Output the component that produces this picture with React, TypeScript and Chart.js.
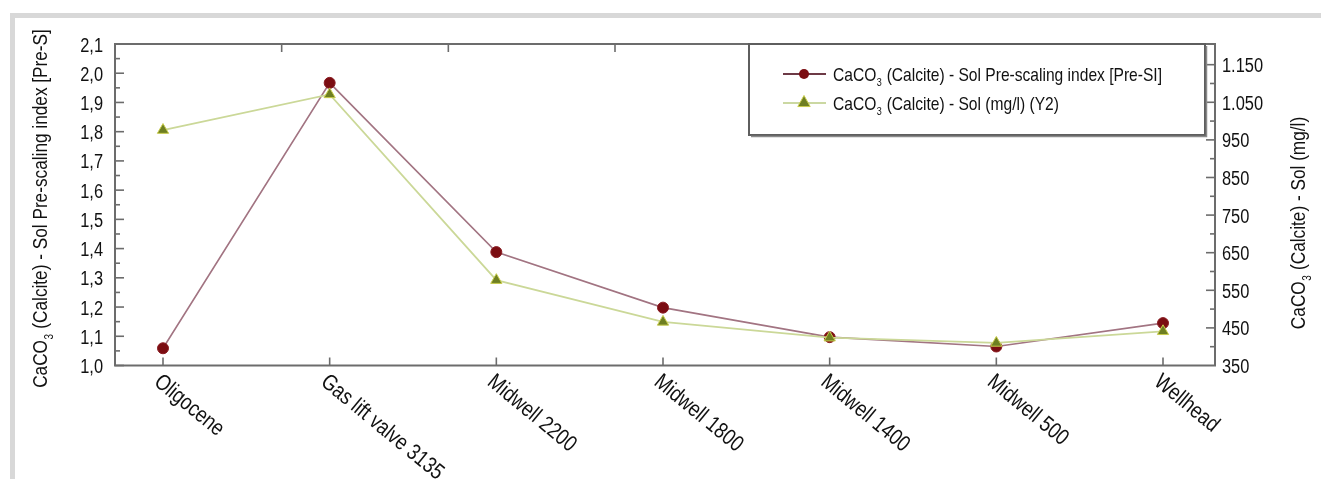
import React, { useEffect, useRef } from 'react';
import { Chart, registerables } from 'chart.js';

Chart.register(...registerables);

// ---------- data ----------
const categories = [
  'Oligocene',
  'Gas lift valve 3135',
  'Midwell 2200',
  'Midwell 1800',
  'Midwell 1400',
  'Midwell 500',
  'Wellhead',
];
const preScalingIndex = [1.059, 1.967, 1.388, 1.198, 1.097, 1.065, 1.145];
const solubilityMgL = [976, 1071, 577, 466, 424, 410, 441];
const leftTicks = [1.0, 1.1, 1.2, 1.3, 1.4, 1.5, 1.6, 1.7, 1.8, 1.9, 2.0, 2.1];
const rightTicks = [350, 450, 550, 650, 750, 850, 950, 1050, 1150];
const seriesLabels = [
  'CaCO₃ (Calcite) - Sol Pre-scaling index [Pre-SI]',
  'CaCO₃ (Calcite) - Sol (mg/l) (Y2)',
];
const leftTitle = 'CaCO₃ (Calcite) - Sol Pre-scaling index [Pre-S]';
const rightTitle = 'CaCO₃ (Calcite) - Sol (mg/l)';

// ---------- styles ----------
const FONT = '"Liberation Sans", Arial, sans-serif';
const SQUEEZE = 0.82;
const W = 1321;
const H = 479;
const AXIS_COLOR = '#6c6c6c';
const TEXT_COLOR = '#111';
const RED_LINE = '#a27482';
const RED_POINT = '#7b0d12';
const GREEN_LINE = '#cbd898';
const GREEN_POINT = '#6e7f22';
const GREEN_EDGE = '#c8cc4c';

type Align = 'left' | 'center' | 'right';

function condWidth(ctx: CanvasRenderingContext2D, text: string, size: number) {
  ctx.font = `${size}px ${FONT}`;
  return ctx.measureText(text).width * SQUEEZE;
}

function fillCond(ctx: CanvasRenderingContext2D, text: string, x: number, y: number, size: number, align: Align, baseline: CanvasTextBaseline = 'alphabetic') {
  ctx.save();
  ctx.translate(x, y);
  ctx.scale(SQUEEZE, 1);
  ctx.font = `${size}px ${FONT}`;
  ctx.textAlign = align;
  ctx.textBaseline = baseline;
  ctx.fillText(text, 0, 0);
  ctx.restore();
}

function drawChem(ctx: CanvasRenderingContext2D, text: string, x: number, y: number, size: number, align: 'left' | 'center') {
  const parts = text.split('₃');
  const subSize = size * 0.58;
  const w0 = condWidth(ctx, parts[0], size);
  const w1 = parts.length > 1 ? condWidth(ctx, '3', subSize) : 0;
  const w2 = parts.length > 1 ? condWidth(ctx, parts[1], size) : 0;
  const total = w0 + w1 + w2;
  let sx = align === 'center' ? x - total / 2 : x;
  fillCond(ctx, parts[0], sx, y, size, 'left');
  if (parts.length > 1) {
    sx += w0;
    fillCond(ctx, '3', sx + 0.5, y + size * 0.3, subSize, 'left');
    sx += w1 + 1;
    fillCond(ctx, parts[1], sx, y, size, 'left');
  }
}

function drawTriangle(ctx: CanvasRenderingContext2D, x: number, y: number, r: number) {
  ctx.beginPath();
  ctx.moveTo(x, y - r);
  ctx.lineTo(x + r * 0.95, y + r * 0.7);
  ctx.lineTo(x - r * 0.95, y + r * 0.7);
  ctx.closePath();
  ctx.fillStyle = GREEN_POINT;
  ctx.fill();
  ctx.strokeStyle = GREEN_EDGE;
  ctx.lineWidth = 1;
  ctx.stroke();
}

const formatLeft = (v: number) => v.toFixed(1).replace('.', ',');
const formatRight = (n: number) => {
  if (n >= 1000) {
    const th = Math.floor(n / 1000);
    const rest = String(n % 1000).padStart(3, '0');
    return `${th}.${rest}`;
  }
  return String(n);
};

const decorPlugin = {
  id: 'decor',
  beforeDatasetsDraw(chart: any) {
    const { ctx, chartArea: a, scales } = chart;
    ctx.save();
    ctx.strokeStyle = AXIS_COLOR;
    ctx.lineWidth = 2;
    ctx.strokeRect(a.left, a.top, a.right - a.left, a.bottom - a.top);
    ctx.lineWidth = 1.6;
    const y = scales.y;
    leftTicks.forEach((v, i) => {
      const py = y.getPixelForValue(v);
      ctx.beginPath();
      ctx.moveTo(a.left, py);
      ctx.lineTo(a.left + 9, py);
      ctx.stroke();
      if (i < leftTicks.length - 1) {
        const pm = y.getPixelForValue((v + leftTicks[i + 1]) / 2);
        ctx.beginPath();
        ctx.moveTo(a.left, pm);
        ctx.lineTo(a.left + 5, pm);
        ctx.stroke();
      }
    });
    const y2 = scales.y2;
    rightTicks.forEach((v, i) => {
      const py = y2.getPixelForValue(v);
      if (i > 0) {
        ctx.beginPath();
        ctx.moveTo(a.right, py);
        ctx.lineTo(a.right - 9, py);
        ctx.stroke();
      }
      const pm = y2.getPixelForValue(v + 50);
      if (pm > a.top + 2) {
        ctx.beginPath();
        ctx.moveTo(a.right, pm);
        ctx.lineTo(a.right - 5, pm);
        ctx.stroke();
      }
    });
    const x = scales.x;
    categories.forEach((_, i) => {
      const px = x.getPixelForValue(i);
      ctx.beginPath();
      ctx.moveTo(px, a.bottom);
      ctx.lineTo(px, a.bottom - 8);
      ctx.stroke();
    });
    for (let k = 1; k < categories.length; k++) {
      const px = x.getPixelForValue(x.min + k);
      ctx.beginPath();
      ctx.moveTo(px, a.top);
      ctx.lineTo(px, a.top + 8);
      ctx.stroke();
    }
    ctx.restore();
  },
  afterDraw(chart: any) {
    const { ctx, chartArea: a, scales } = chart;
    ctx.save();
    ctx.fillStyle = TEXT_COLOR;

    // y tick labels
    leftTicks.forEach((v) => {
      const py = scales.y.getPixelForValue(v);
      fillCond(ctx, formatLeft(v), a.left - 12, py + 7.5, 20, 'right');
    });
    rightTicks.forEach((v) => {
      const py = scales.y2.getPixelForValue(v);
      fillCond(ctx, formatRight(v), a.right + 7, py + 7.5, 20, 'left');
    });

    // x labels rotated
    const x = scales.x;
    categories.forEach((c, i) => {
      const px = x.getPixelForValue(i);
      ctx.save();
      ctx.translate(px - 10, a.bottom + 18.5);
      ctx.rotate((39.5 * Math.PI) / 180);
      fillCond(ctx, c, 0, 0, 22.5, 'left');
      ctx.restore();
    });

    // axis titles
    ctx.save();
    ctx.translate(47, 209);
    ctx.rotate(-Math.PI / 2);
    drawChem(ctx, leftTitle, 0, 0, 21, 'center');
    ctx.restore();
    ctx.save();
    ctx.translate(1305, 223.5);
    ctx.rotate(-Math.PI / 2);
    drawChem(ctx, rightTitle, 0, 0, 21, 'center');
    ctx.restore();

    // legend box
    const bx = 749, by = a.top, bw = 456, bh = 91;
    ctx.fillStyle = '#ffffff';
    ctx.fillRect(bx, by, bw, bh);
    ctx.strokeStyle = '#5e5e5e';
    ctx.lineWidth = 2;
    ctx.strokeRect(bx, by, bw, bh);
    ctx.lineWidth = 1.5;
    ctx.strokeStyle = '#8a8a8a';
    ctx.beginPath();
    ctx.moveTo(bx + 2, by + bh + 1.5);
    ctx.lineTo(bx + bw + 1.5, by + bh + 1.5);
    ctx.lineTo(bx + bw + 1.5, by + 2);
    ctx.stroke();

    const rows = [74, 103];
    ctx.strokeStyle = '#6d3a46';
    ctx.lineWidth = 2;
    ctx.beginPath();
    ctx.moveTo(783, rows[0]);
    ctx.lineTo(826, rows[0]);
    ctx.stroke();
    ctx.beginPath();
    ctx.arc(804, rows[0], 5, 0, Math.PI * 2);
    ctx.fillStyle = RED_POINT;
    ctx.fill();
    ctx.strokeStyle = '#cbd8a2';
    ctx.lineWidth = 2;
    ctx.beginPath();
    ctx.moveTo(783, rows[1]);
    ctx.lineTo(826, rows[1]);
    ctx.stroke();
    drawTriangle(ctx, 804, rows[1] - 1, 6.5);

    ctx.fillStyle = TEXT_COLOR;
    seriesLabels.forEach((lbl, i) => {
      drawChem(ctx, lbl, 833, rows[i] + 6.5, 19, 'left');
    });
    ctx.restore();
  },
};

export default function App() {
  const canvasRef = useRef<HTMLCanvasElement | null>(null);

  useEffect(() => {
    const canvas = canvasRef.current;
    if (!canvas) return;
    const pxPerCat = 1000 / 6;
    const chart = new Chart(canvas, {
      type: 'line',
      data: {
        datasets: [
          {
            label: seriesLabels[0],
            data: preScalingIndex.map((v, i) => ({ x: i, y: v })),
            yAxisID: 'y',
            borderColor: RED_LINE,
            borderWidth: 1.6,
            pointStyle: 'circle',
            pointRadius: 5.5,
            pointBackgroundColor: RED_POINT,
            pointBorderColor: '#8a1c22',
            pointBorderWidth: 1,
            tension: 0,
            order: 2,
          },
          {
            label: seriesLabels[1],
            data: solubilityMgL.map((v, i) => ({ x: i, y: v })),
            yAxisID: 'y2',
            borderColor: GREEN_LINE,
            borderWidth: 1.8,
            pointStyle: 'triangle',
            pointRadius: 6.5,
            pointBackgroundColor: GREEN_POINT,
            pointBorderColor: GREEN_EDGE,
            pointBorderWidth: 1,
            tension: 0,
            order: 1,
          },
        ],
      },
      options: {
        responsive: false,
        animation: false,
        layout: { padding: { top: 44, bottom: 113.5, left: 115, right: 106 } },
        plugins: {
          legend: { display: false },
          tooltip: { enabled: false },
        },
        scales: {
          x: {
            type: 'linear',
            display: false,
            min: -48 / pxPerCat,
            max: 6 + 52 / pxPerCat,
          },
          y: {
            display: false,
            position: 'left',
            min: 1.0,
            max: 2.1,
          },
          y2: {
            display: false,
            position: 'right',
            min: 350,
            max: 1205,
          },
        },
      },
      plugins: [decorPlugin],
    });
    return () => chart.destroy();
  }, []);

  return (
    <div style={{ position: 'fixed', left: 0, top: 0, width: W, height: H, background: '#fff', overflow: 'hidden' }}>
      <div style={{ position: 'absolute', left: 10, top: 13, width: W - 10, height: 5, background: '#d8d8d8' }} />
      <div style={{ position: 'absolute', left: 10, top: 13, width: 5, height: H - 13, background: '#d8d8d8' }} />
      <canvas ref={canvasRef} width={W} height={H} style={{ position: 'absolute', left: 0, top: 0, width: W, height: H }} />
    </div>
  );
}
